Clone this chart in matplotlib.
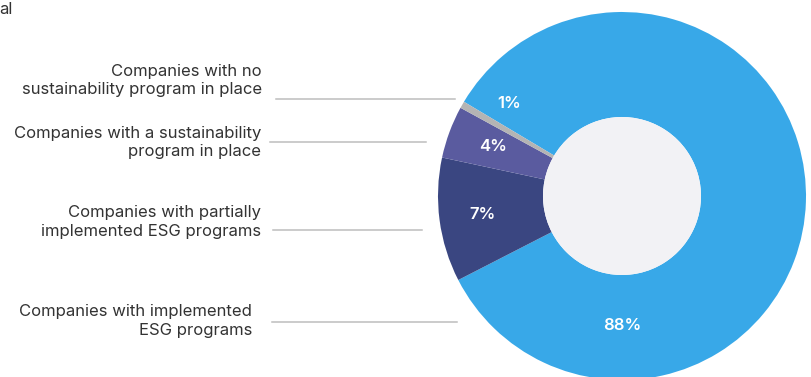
import matplotlib.pyplot as plt
from matplotlib.patches import Circle

plt.rcParams['font.family'] = ['Inter', 'DejaVu Sans']

W, H = 812, 377

# order: clockwise from the top-left edge of the blue wedge
categories = [
    "Companies with implemented\nESG programs",
    "Companies with partially\nimplemented ESG programs",
    "Companies with a sustainability\nprogram in place",
    "Companies with no\nsustainability program in place",
]
pct_labels = ["88%", "7%", "4%", "1%"]
# wedge sizes as drawn in the picture (arc lengths)
arc_share = [83.9, 10.9, 4.6, 0.6]
colors = ["#38a8e8", "#3a4681", "#5a5b9f", "#b4b4b4"]


def py(y):
    # image pixel row -> data y (y axis points up)
    return H - y


fig = plt.figure(figsize=(W / 100, H / 100), dpi=100)
ax = fig.add_axes([0, 0, 1, 1])

cx, cy, R, r_in = 622, 196, 184, 79
ax.pie(arc_share, colors=colors, startangle=149.2, counterclock=False,
       center=(cx, py(cy)), radius=R,
       wedgeprops=dict(width=R - r_in, linewidth=0))
ax.add_patch(Circle((cx, py(cy)), r_in, facecolor="#f2f2f5", edgecolor="none", zorder=3))

# percentage labels inside the ring
pct_pos = [(622, 326), (483, 215), (493, 147), (509, 103)]
for lab, (x, y) in zip(pct_labels, pct_pos):
    ax.text(x, py(y), lab, color="white", fontsize=12, fontweight="semibold",
            ha="center", va="center", zorder=4)

# category labels with leader lines
text_pos = [(252, 321), (261, 222), (261, 142.5), (262, 80.5)]
lines = [(272, 457, 322), (273, 422, 229.5), (270, 426, 142), (276, 455, 99)]
for cat, (tx, ty), (x0, x1, ly) in zip(categories, text_pos, lines):
    ax.text(tx, py(ty), cat, color="#333333", fontsize=12, ha="right",
            va="center", linespacing=1.3)
    ax.plot([x0, x1], [py(ly), py(ly)], color="#bdbdbd", lw=1.1, zorder=1)

# fragment of a title cut off at the left edge
ax.text(-1, py(10), "al", color="#333333", fontsize=12, ha="left", va="center")

ax.set_xlim(0, W)
ax.set_ylim(0, H)
ax.set_aspect("equal")
ax.axis("off")

fig.savefig("out.png", dpi=100)
